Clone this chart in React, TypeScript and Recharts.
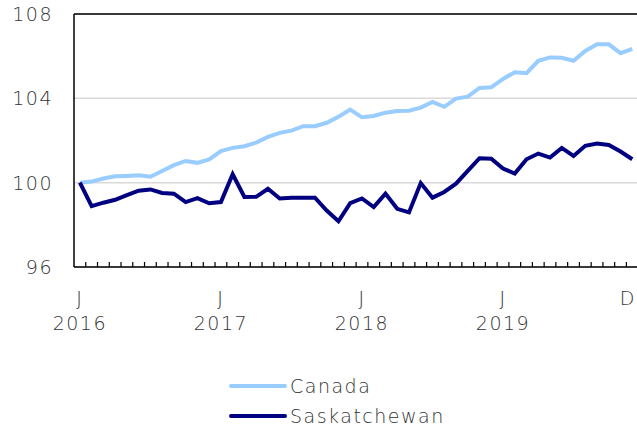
import React from 'react';
import { LineChart, Line, XAxis, YAxis, CartesianGrid, ReferenceLine } from 'recharts';

const months = [
  '2016-01','2016-02','2016-03','2016-04','2016-05','2016-06','2016-07','2016-08','2016-09','2016-10','2016-11','2016-12',
  '2017-01','2017-02','2017-03','2017-04','2017-05','2017-06','2017-07','2017-08','2017-09','2017-10','2017-11','2017-12',
  '2018-01','2018-02','2018-03','2018-04','2018-05','2018-06','2018-07','2018-08','2018-09','2018-10','2018-11','2018-12',
  '2019-01','2019-02','2019-03','2019-04','2019-05','2019-06','2019-07','2019-08','2019-09','2019-10','2019-11','2019-12',
];

const canada = [
  100.0, 100.05, 100.2, 100.3, 100.32, 100.35, 100.28, 100.55, 100.83, 101.03, 100.94, 101.1,
  101.5, 101.65, 101.73, 101.9, 102.17, 102.36, 102.47, 102.68, 102.68, 102.84, 103.13, 103.47,
  103.1, 103.16, 103.32, 103.4, 103.41, 103.56, 103.83, 103.6, 103.99, 104.08, 104.49, 104.52,
  104.92, 105.24, 105.19, 105.78, 105.94, 105.92, 105.78, 106.25, 106.57, 106.56, 106.14, 106.35,
];

const saskatchewan = [
  100.0, 98.89, 99.05, 99.19, 99.41, 99.62, 99.68, 99.51, 99.48, 99.08, 99.27, 99.02,
  99.08, 100.4, 99.32, 99.33, 99.71, 99.25, 99.29, 99.29, 99.29, 98.68, 98.17, 99.03,
  99.25, 98.84, 99.48, 98.76, 98.59, 99.98, 99.29, 99.56, 99.95, 100.56, 101.16, 101.14,
  100.67, 100.43, 101.11, 101.38, 101.19, 101.65, 101.27, 101.75, 101.86, 101.79, 101.48, 101.11,
];

const yTicks = [96, 100, 104, 108];
const labelIdx = [0, 12, 24, 36, 47];
const labelTop = ['J', 'J', 'J', 'J', 'D'];
const labelYear = ['2016', '2017', '2018', '2019', ''];
const boundaryTicks = months.slice(1).map((_, i) => i + 0.5);

const data = months.map((m, i) => ({ i, month: m, canada: canada[i], sask: saskatchewan[i] }));

const FONT = '"DejaVu Sans", sans-serif';
const TEXT = '#333333';
const CANADA_COLOR = '#99ccff';
const SASK_COLOR = '#000080';

const textStyle = { fontFamily: FONT, fontSize: 19, fill: TEXT, letterSpacing: 1.5, fontWeight: 300 } as const;

const YTick = (props: any) => {
  const { y, payload } = props;
  return (
    <text x={53} y={y} dy="0.36em" textAnchor="end" style={textStyle}>
      {payload.value}
    </text>
  );
};

const XTick = (props: any) => {
  const { x, y, payload } = props;
  const v = payload.value as number;
  if (!Number.isInteger(v)) {
    return <line x1={x} x2={x} y1={y - 5} y2={y} stroke="#000" strokeWidth={1.2} />;
  }
  const k = labelIdx.indexOf(v);
  if (k < 0) return null;
  const last = k === labelIdx.length - 1;
  return (
    <g>
      <text x={last ? 636 : x} y={y + 31} dy="0.36em" textAnchor={last ? 'end' : 'middle'} style={textStyle}>{labelTop[k]}</text>
      {labelYear[k] ? (
        <text x={x} y={y + 56} dy="0.36em" textAnchor="middle" style={textStyle}>{labelYear[k]}</text>
      ) : null}
    </g>
  );
};

const legendItems = [
  { name: 'Canada', color: CANADA_COLOR },
  { name: 'Saskatchewan', color: SASK_COLOR },
];

export default function App() {
  const xTicks = [...boundaryTicks, ...labelIdx].sort((a, b) => a - b);
  return (
    <div style={{ position: 'absolute', left: 0, top: 0, width: 637, height: 431 }}>
      <LineChart width={637} height={431} data={data} margin={{ top: 14, right: 0, bottom: 163, left: 0 }}>
        <CartesianGrid vertical={false} stroke="#d9d9d9" strokeWidth={1.5} />
        <XAxis
          dataKey="i"
          type="number"
          domain={[-0.5, 47.4]}
          ticks={xTicks}
          interval={0}
          tick={<XTick />}
          tickLine={false}
          tickSize={0}
          tickMargin={0}
          height={1}
          axisLine={{ stroke: '#000', strokeWidth: 1.5 }}
          allowDataOverflow
        />
        <YAxis
          domain={[96, 108]}
          ticks={yTicks}
          width={74}
          tick={<YTick />}
          tickLine={false}
          axisLine={{ stroke: '#000', strokeWidth: 1.5 }}
          interval={0}
        />
        <ReferenceLine y={108} stroke="#000" strokeWidth={1.5} />
        <Line dataKey="canada" stroke={CANADA_COLOR} strokeWidth={4} dot={false} isAnimationActive={false} />
        <Line dataKey="sask" stroke={SASK_COLOR} strokeWidth={4} dot={false} isAnimationActive={false} />
      </LineChart>
      <svg width={637} height={431} style={{ position: 'absolute', left: 0, top: 0, pointerEvents: 'none' }}>
        {legendItems.map((it, k) => (
          <g key={it.name}>
            <line x1={231} x2={285} y1={386 + k * 30} y2={386 + k * 30} stroke={it.color} strokeWidth={4} strokeLinecap="round" />
            <text x={290} y={386 + k * 30} dy="0.36em" style={textStyle}>{it.name}</text>
          </g>
        ))}
      </svg>
    </div>
  );
}
